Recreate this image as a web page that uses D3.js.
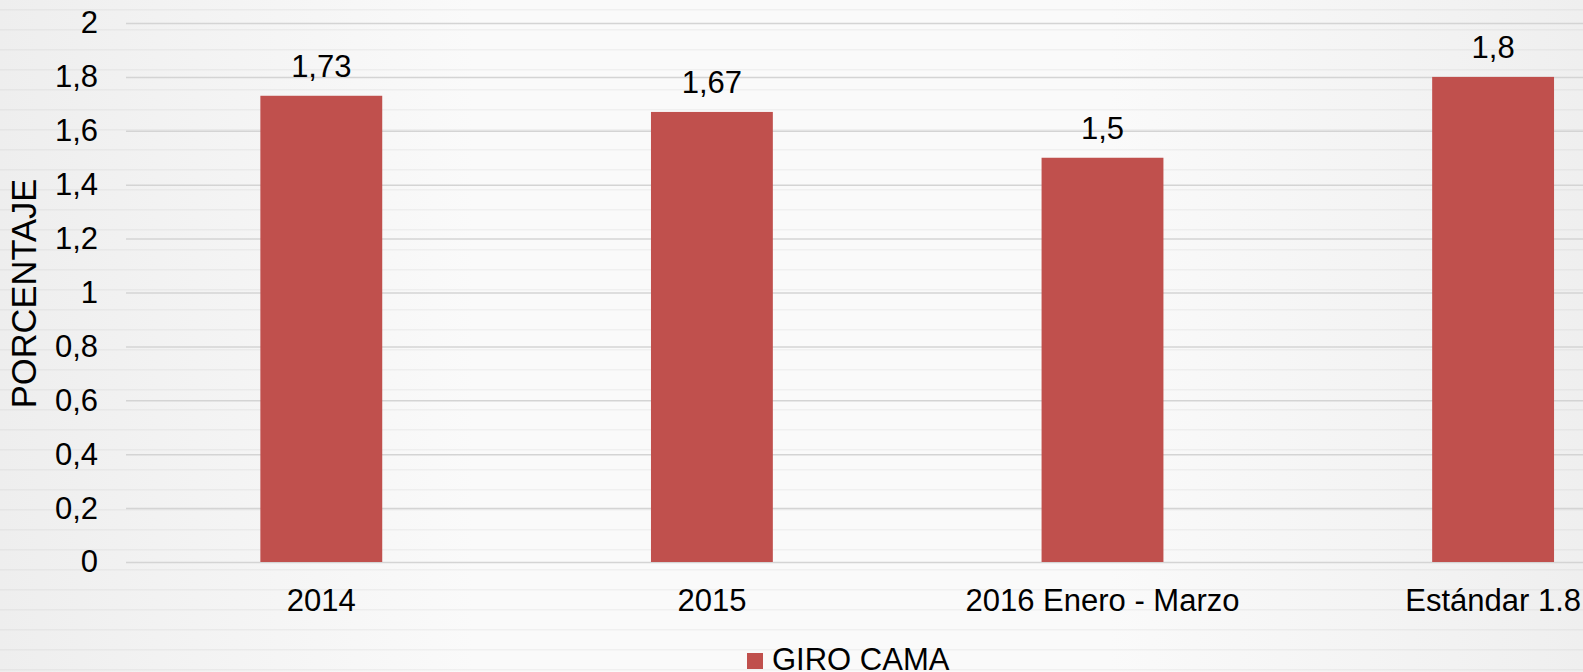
<!DOCTYPE html>
<html>
<head>
<meta charset="UTF-8">
<title>GIRO CAMA</title>
<script src="https://cdn.jsdelivr.net/npm/d3@7"></script>
<style>
  html, body { margin: 0; padding: 0; overflow: hidden; }
  svg { display: block; font-family: "Liberation Sans", Arial, sans-serif; }
</style>
</head>
<body>
<script>
// datos del grafico
var categorias = ["2014", "2015", "2016 Enero - Marzo", "Estándar 1.8"];
var valores = [1.73, 1.67, 1.5, 1.8];
var etiquetas = ["1,73", "1,67", "1,5", "1,8"];
var ticksY = [0, 0.2, 0.4, 0.6, 0.8, 1, 1.2, 1.4, 1.6, 1.8, 2];
var serie = "GIRO CAMA";
var tituloY = "PORCENTAJE";

var width = 1583, height = 672;
var plotLeft = 126, plotTop = 23, plotBottom = 562;
var step = 390.6;   // el grafico original esta recortado a la derecha

var svg = d3.select("body").append("svg")
  .attr("width", width)
  .attr("height", height);

// fondo con rayas horizontales
var defs = svg.append("defs");
var grad = defs.append("linearGradient").attr("id", "fondo");
grad.append("stop").attr("offset", "0%").attr("stop-color", "#eeeeee");
grad.append("stop").attr("offset", "30%").attr("stop-color", "#fafafa");
grad.append("stop").attr("offset", "70%").attr("stop-color", "#fafafa");
grad.append("stop").attr("offset", "100%").attr("stop-color", "#efefef");
var pat = defs.append("pattern").attr("id", "rayas")
  .attr("patternUnits", "userSpaceOnUse")
  .attr("width", 40).attr("height", 20);
pat.append("rect").attr("x", 0).attr("y", 9).attr("width", 40).attr("height", 1.5)
  .attr("fill", "#000").attr("fill-opacity", 0.04);

svg.append("rect").attr("width", width).attr("height", height).attr("fill", "url(#fondo)");
svg.append("rect").attr("width", width).attr("height", height).attr("fill", "url(#rayas)");

var x = d3.scaleBand()
  .domain(categorias)
  .range([plotLeft, plotLeft + step * categorias.length])
  .paddingInner(0.688)
  .paddingOuter(0.344);

var y = d3.scaleLinear()
  .domain([0, 2])
  .range([plotBottom, plotTop]);

var loc = d3.formatLocale({decimal: ",", thousands: ".", grouping: [3], currency: ["", ""]});
var fmt = loc.format("~g");

// eje y con lineas de cuadricula
var ejeY = svg.append("g")
  .attr("transform", "translate(" + plotLeft + ",0)")
  .call(d3.axisLeft(y).tickValues(ticksY).tickFormat(fmt)
    .tickSize(-(width - plotLeft)).tickPadding(28));
ejeY.select(".domain").remove();
ejeY.selectAll(".tick line").attr("stroke", "#d4d4d4").attr("stroke-width", 1.5);
ejeY.selectAll(".tick text").attr("font-size", 31).attr("fill", "#000")
  .attr("font-family", "Liberation Sans, Arial, sans-serif");

// barras
svg.selectAll(".barra")
  .data(valores)
  .enter().append("rect")
  .attr("class", "barra")
  .attr("x", function(d, i) { return x(categorias[i]); })
  .attr("y", function(d) { return y(d); })
  .attr("width", x.bandwidth())
  .attr("height", function(d) { return y(0) - y(d); })
  .attr("fill", "#C0504D");

// etiquetas de datos
svg.selectAll(".etiqueta")
  .data(valores)
  .enter().append("text")
  .attr("x", function(d, i) { return x(categorias[i]) + x.bandwidth() / 2; })
  .attr("y", function(d) { return y(d) - 19; })
  .attr("text-anchor", "middle")
  .attr("font-size", 31)
  .attr("fill", "#000")
  .text(function(d, i) { return etiquetas[i]; });

// eje x
var ejeX = svg.append("g")
  .attr("transform", "translate(0," + plotBottom + ")")
  .call(d3.axisBottom(x).tickSize(0).tickPadding(0));
ejeX.select(".domain").remove();
ejeX.selectAll(".tick text").attr("font-size", 31).attr("fill", "#000")
  .attr("font-family", "Liberation Sans, Arial, sans-serif")
  .attr("dy", null).attr("y", 49);

// titulo eje y
svg.append("text")
  .attr("transform", "translate(36," + ((plotTop + plotBottom) / 2 + 1) + ") rotate(-90)")
  .attr("text-anchor", "middle")
  .attr("font-size", 34.5)
  .attr("fill", "#000")
  .text(tituloY);

// leyenda
var ley = svg.append("g").attr("transform", "translate(747,653)");
ley.append("rect").attr("width", 16).attr("height", 16).attr("fill", "#C0504D");
ley.append("text").attr("x", 25).attr("y", 17).attr("font-size", 31).attr("fill", "#000").text(serie);
</script>
</body>
</html>
